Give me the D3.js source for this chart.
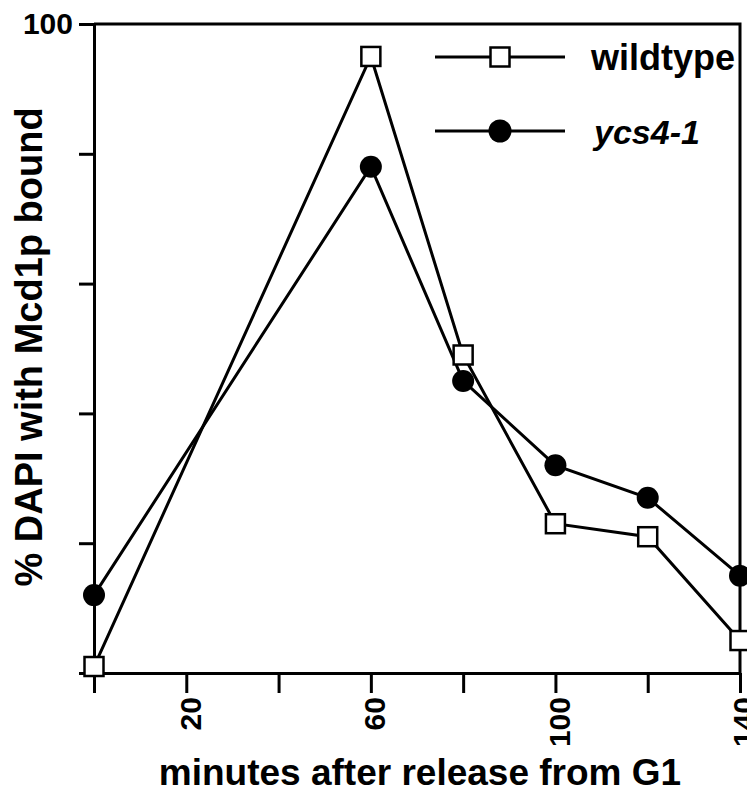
<!DOCTYPE html>
<html>
  <head>
    <meta charset="utf-8" />
    <script src="https://d3js.org/d3.v7.min.js"></script>
    <style>
      body { margin: 0; background: #fff; }
      text { font-family: "Liberation Sans", Arial, sans-serif; fill: #000; }
    </style>
  </head>
  <body>
    <script>
      let minutes = [0, 60, 80, 100, 120, 140];
      let wildtype = [1, 95, 49, 23, 21, 5];
      let ycs4 = [12, 78, 45, 32, 27, 15];
      let xTicks = [0, 20, 40, 60, 80, 100, 120, 140];
      let xLabels = [20, 60, 100, 140];
      let yTicks = [0, 20, 40, 60, 80, 100];
      let yLabels = [100];

      let width = 747;
      let height = 802;
      let svg = d3
        .select("body")
        .append("svg")
        .attr("width", width)
        .attr("height", height);

      let x = d3.scaleLinear().domain([0, 140]).range([94, 740]);
      let y = d3.scaleLinear().domain([0, 100]).range([673, 24]);

      // frame: top and right edges
      svg
        .append("path")
        .attr("d", `M${x(0)},${y(100)}H${x(140)}V${y(0)}`)
        .attr("fill", "none")
        .attr("stroke", "black")
        .attr("stroke-width", 3);

      // y axis
      let yAxis = svg.append("g").attr("transform", `translate(${x(0)},0)`);
      yAxis.call(
        d3
          .axisLeft(y)
          .tickValues(yTicks)
          .tickSize(15)
          .tickSizeOuter(0)
          .tickFormat((d) => (yLabels.includes(d) ? d : ""))
      );
      yAxis.selectAll("line, path").attr("stroke", "black").attr("stroke-width", 3);
      yAxis
        .selectAll("text")
        .attr("x", -21)
        .attr("dy", "0.33em")
        .style("font-size", "30px")
        .style("font-family", "Liberation Sans, Arial, sans-serif")
        .style("font-weight", "bold");

      // x axis
      let xAxis = svg.append("g").attr("transform", `translate(0,${y(0)})`);
      xAxis.call(
        d3
          .axisBottom(x)
          .tickValues(xTicks)
          .tickSize(20)
          .tickSizeOuter(0)
          .tickFormat((d) => (xLabels.includes(d) ? d : ""))
      );
      xAxis.selectAll("line, path").attr("stroke", "black").attr("stroke-width", 3);
      xAxis
        .selectAll("text")
        .attr("transform", "rotate(-90)")
        .attr("x", -24)
        .attr("y", 3)
        .attr("dy", "0.36em")
        .attr("text-anchor", "end")
        .style("font-size", "30px")
        .style("font-family", "Liberation Sans, Arial, sans-serif")
        .style("font-weight", "bold");

      // axis titles
      svg
        .append("text")
        .attr("x", 420)
        .attr("y", 785)
        .attr("text-anchor", "middle")
        .style("font-size", "37px")
        .style("font-weight", "bold")
        .text("minutes after release from G1");
      svg
        .append("text")
        .attr("transform", "translate(42,347) rotate(-90)")
        .attr("text-anchor", "middle")
        .style("font-size", "38px")
        .style("font-weight", "bold")
        .text("% DAPI with Mcd1p bound");

      let line = d3
        .line()
        .x((d) => x(d[0]))
        .y((d) => y(d[1]));

      let series = [
        { name: "ycs4-1", values: ycs4, shape: "circle" },
        { name: "wildtype", values: wildtype, shape: "square" },
      ];

      series.forEach((s) => {
        let pts = minutes.map((m, i) => [m, s.values[i]]);
        svg
          .append("path")
          .datum(pts)
          .attr("d", line)
          .attr("fill", "none")
          .attr("stroke", "black")
          .attr("stroke-width", 3);
        if (s.shape === "circle") {
          svg
            .selectAll(".pt-c")
            .data(pts)
            .join("circle")
            .attr("class", "pt-c")
            .attr("cx", (d) => x(d[0]))
            .attr("cy", (d) => y(d[1]))
            .attr("r", 11)
            .attr("fill", "black");
        } else {
          svg
            .selectAll(".pt-s")
            .data(pts)
            .join("rect")
            .attr("class", "pt-s")
            .attr("x", (d) => x(d[0]) - 9.5)
            .attr("y", (d) => y(d[1]) - 9.5)
            .attr("width", 19)
            .attr("height", 19)
            .attr("fill", "white")
            .attr("stroke", "black")
            .attr("stroke-width", 2.5);
        }
      });

      // legend
      let legend = svg.append("g");
      let legendRows = [
        { name: "wildtype", shape: "square", y: 57, italic: false },
        { name: "ycs4-1", shape: "circle", y: 131, italic: true },
      ];
      legendRows.forEach((r) => {
        legend
          .append("line")
          .attr("x1", 435)
          .attr("x2", 565)
          .attr("y1", r.y)
          .attr("y2", r.y)
          .attr("stroke", "black")
          .attr("stroke-width", 3);
        if (r.shape === "square") {
          legend
            .append("rect")
            .attr("x", 490.5)
            .attr("y", r.y - 9.5)
            .attr("width", 19)
            .attr("height", 19)
            .attr("fill", "white")
            .attr("stroke", "black")
            .attr("stroke-width", 2.5);
        } else {
          legend
            .append("circle")
            .attr("cx", 500)
            .attr("cy", r.y)
            .attr("r", 11.5)
            .attr("fill", "black");
        }
        legend
          .append("text")
          .attr("x", r.italic ? 594 : 591)
          .attr("y", r.y + 13)
          .style("font-size", r.italic ? "34px" : "36px")
          .style("font-weight", "bold")
          .style("font-style", r.italic ? "italic" : "normal")
          .text(r.name);
      });
    </script>
  </body>
</html>
